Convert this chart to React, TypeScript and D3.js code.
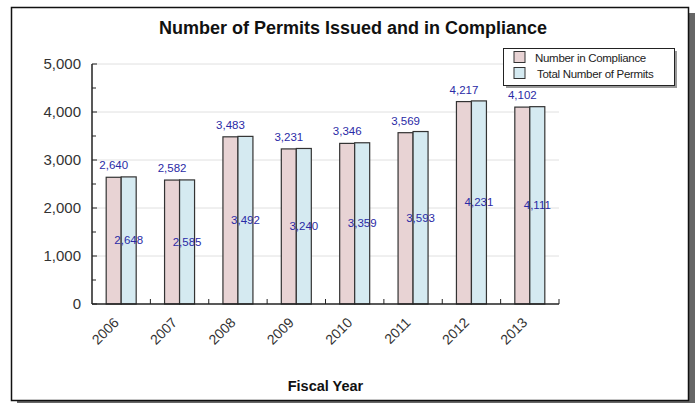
import React from "react"
import * as d3 from "d3"

const years = ["2006", "2007", "2008", "2009", "2010", "2011", "2012", "2013"]
const compliance = [2640, 2582, 3483, 3231, 3346, 3569, 4217, 4102]
const totalPermits = [2648, 2585, 3492, 3240, 3359, 3593, 4231, 4111]
const yTicks = [0, 1000, 2000, 3000, 4000, 5000]
const yMinorTicks = [500, 1500, 2500, 3500, 4500]
const seriesNames = ["Number in Compliance", "Total Number of Permits"]
const seriesColors = ["#e8d3d4", "#d5eaf1"]

const width = 698
const height = 403
const margin = { top: 64, right: 139, bottom: 99, left: 92 }
const innerWidth = width - margin.left - margin.right
const innerHeight = height - margin.top - margin.bottom
const labelColor = "#2a2aa6"
const font = "'Liberation Sans', Arial, sans-serif"

const App = () => {
  const xScale = d3.scaleBand().domain(years).range([0, innerWidth])
  const yScale = d3.scaleLinear().domain([0, 5000]).range([innerHeight, 0])
  const barWidth = 15
  const fmt = d3.format(",")

  return (
    <svg
      width={width}
      height={height}
      style={{ position: "absolute", left: 0, top: 0, fontFamily: font }}
    >
      {/* frame with drop shadow */}
      <rect x={17} y={13} width={678} height={393} fill="#666" />
      <rect x={11.5} y={7.5} width={677} height={393} fill="#fff" stroke="#111" strokeWidth={1.5} />

      <text x={353} y={34} textAnchor="middle" fontSize={18} fontWeight="bold" fill="#111">
        Number of Permits Issued and in Compliance
      </text>

      <g transform={`translate(${margin.left}, ${margin.top})`}>
        {yTicks.map((t) => (
          <g key={t} transform={`translate(0, ${yScale(t)})`}>
            {t > 0 && <line x1={0} x2={innerWidth} stroke="#e0e0e0" />}
            <line x1={0} x2={5} stroke="#222" />
            <text x={-11} dy="0.36em" textAnchor="end" fontSize={15} fill="#333">
              {fmt(t)}
            </text>
          </g>
        ))}
        {yMinorTicks.map((t) => (
          <line key={t} x1={0} x2={4} y1={yScale(t)} y2={yScale(t)} stroke="#222" />
        ))}

        {years.map((yr, i) => {
          const cx = (xScale(yr) ?? 0) + xScale.bandwidth() / 2
          const vals = [compliance[i], totalPermits[i]]
          return (
            <g key={yr}>
              {vals.map((v, j) => (
                <rect
                  key={j}
                  x={cx - barWidth + j * barWidth}
                  y={yScale(v)}
                  width={barWidth}
                  height={innerHeight - yScale(v)}
                  fill={seriesColors[j]}
                  stroke="#333"
                  strokeWidth={1.2}
                />
              ))}
              <text
                x={cx - barWidth / 2}
                y={yScale(vals[0]) - 8}
                textAnchor="middle"
                fontSize={11.5}
                fill={labelColor}
              >
                {fmt(vals[0])}
              </text>
              <text
                x={cx + barWidth / 2}
                y={(yScale(vals[1]) + innerHeight) / 2}
                dy="0.35em"
                textAnchor="middle"
                fontSize={11.5}
                fill={labelColor}
              >
                {fmt(vals[1])}
              </text>
              <text
                transform={`translate(${cx - 5}, ${innerHeight + 16}) rotate(-45)`}
                textAnchor="end"
                dy="0.35em"
                fontSize={14}
                fill="#333"
              >
                {yr}
              </text>
            </g>
          )
        })}

        {years.slice(1).map((yr) => (
          <line
            key={yr}
            x1={xScale(yr)}
            x2={xScale(yr)}
            y1={innerHeight}
            y2={innerHeight - 5}
            stroke="#222"
          />
        ))}
        <line x1={innerWidth} x2={innerWidth} y1={innerHeight} y2={innerHeight - 5} stroke="#222" />

        <line x1={0} x2={innerWidth} y1={innerHeight} y2={innerHeight} stroke="#222" strokeWidth={1.5} />
        <line x1={0} x2={0} y1={0} y2={innerHeight} stroke="#222" strokeWidth={1.5} />

        <text
          x={innerWidth / 2}
          y={height - 12 - margin.top}
          textAnchor="middle"
          fontSize={14.5}
          fontWeight="bold"
          fill="#111"
        >
          Fiscal Year
        </text>
      </g>

      {/* legend */}
      <g transform="translate(503, 48)">
        <rect x={3} y={3} width={171} height={37} fill="#999" />
        <rect x={0.5} y={0.5} width={171} height={37} fill="#fff" stroke="#222" />
        {seriesNames.map((name, i) => (
          <g key={name} transform={`translate(11, ${3.5 + i * 16})`}>
            <rect width={11} height={11} fill={seriesColors[i]} stroke="#333" />
            <text x={21 + i * 2} y={10} fontSize={11.5} fill="#222" letterSpacing={-0.3}>
              {name}
            </text>
          </g>
        ))}
      </g>
    </svg>
  )
}

export default App
